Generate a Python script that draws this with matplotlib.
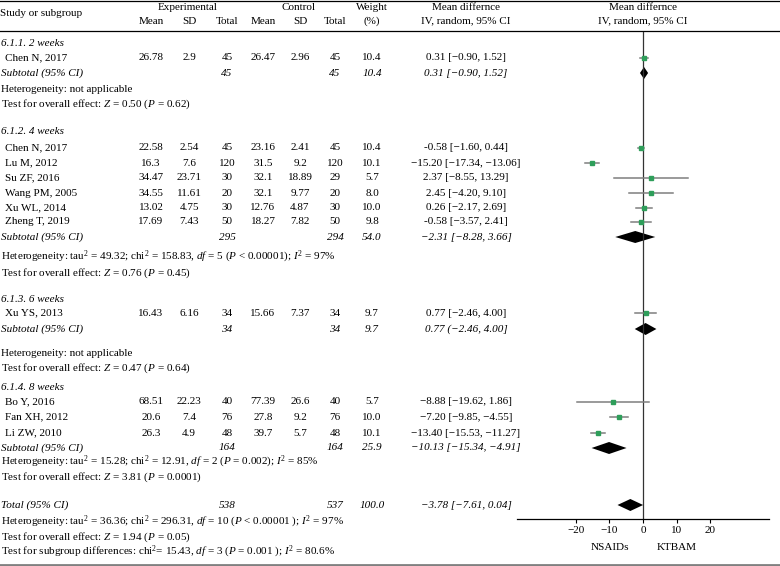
import matplotlib
matplotlib.use("Agg")
import matplotlib.pyplot as plt
import numpy as np

plt.rcParams['font.family'] = ['Liberation Serif', 'DejaVu Serif']
plt.rcParams['mathtext.fontset'] = 'custom'
plt.rcParams['mathtext.rm'] = 'Liberation Serif'
plt.rcParams['mathtext.it'] = 'Liberation Serif:italic'

# ---- data ----
studies = ["Chen N, 2017", "Chen N, 2017", "Lu M, 2012", "Su ZF, 2016", "Wang PM, 2005",
           "Xu WL, 2014", "Zheng T, 2019", "Xu YS, 2013", "Bo Y, 2016", "Fan XH, 2012", "Li ZW, 2010"]
exp_mean = ["26.78", "22.58", "16.3", "34.47", "34.55", "13.02", "17.69", "16.43", "68.51", "20.6", "26.3"]
exp_sd = ["2.9", "2.54", "7.6", "23.71", "11.61", "4.75", "7.43", "6.16", "22.23", "7.4", "4.9"]
exp_n = [45, 45, 120, 30, 20, 30, 50, 34, 40, 76, 48]
ctl_mean = ["26.47", "23.16", "31.5", "32.1", "32.1", "12.76", "18.27", "15.66", "77.39", "27.8", "39.7"]
ctl_sd = ["2.96", "2.41", "9.2", "18.89", "9.77", "4.87", "7.82", "7.37", "26.6", "9.2", "5.7"]
ctl_n = [45, 45, 120, 29, 20, 30, 50, 34, 40, 76, 48]
weights = [10.4, 10.4, 10.1, 5.7, 8.0, 10.0, 9.8, 9.7, 5.7, 10.0, 10.1]
md = [0.31, -0.58, -15.20, 2.37, 2.45, 0.26, -0.58, 0.77, -8.88, -7.20, -13.40]
md_lo = [-0.90, -1.60, -17.34, -8.55, -4.20, -2.17, -3.57, -2.46, -19.62, -9.85, -15.53]
md_hi = [1.52, 0.44, -13.06, 13.29, 9.10, 2.69, 2.41, 4.00, 1.86, -4.55, -11.27]
md_text = ["0.31 [−0.90, 1.52]", "-0.58 [−1.60, 0.44]", "−15.20 [−17.34, −13.06]",
           "2.37 [−8.55, 13.29]", "2.45 [−4.20, 9.10]", "0.26 [−2.17, 2.69]",
           "-0.58 [−3.57, 2.41]", "0.77 [−2.46, 4.00]", "−8.88 [−19.62, 1.86]",
           "−7.20 [−9.85, −4.55]", "−13.40 [−15.53, −11.27]"]

subgroups = ["6.1.1. 2 weeks", "6.1.2. 4 weeks", "6.1.3. 6 weeks", "6.1.4. 8 weeks"]
sub_exp_n = [45, 295, 34, 164]
sub_ctl_n = [45, 294, 34, 164]
sub_w = ["10.4", "54.0", "9.7", "25.9"]
sub_md = [0.31, -2.31, 0.77, -10.13]
sub_lo = [-0.90, -8.28, -2.46, -15.34]
sub_hi = [1.52, 3.66, 4.00, -4.91]
sub_text = ["0.31 [−0.90, 1.52]", "−2.31 [−8.28, 3.66]", "0.77 (−2.46, 4.00]", "−10.13 [−15.34, −4.91]"]
sub_het = ["Heterogeneity: not applicable",
           r"Heterogeneity: tau$^2$ = 49.32; chi$^2$ = 158.83, $\mathit{df}$ = 5 ($\mathit{P}$ < 0.00001); $\mathit{I}^2$ = 97%",
           "Heterogeneity: not applicable",
           r"Heterogeneity: tau$^2$ = 15.28; chi$^2$ = 12.91, $\mathit{df}$ = 2 ($\mathit{P}$ = 0.002); $\mathit{I}^2$ = 85%"]
sub_test = [r"Test for overall effect: $\mathit{Z}$ = 0.50 ($\mathit{P}$ = 0.62)",
            r"Test for overall effect: $\mathit{Z}$ = 0.76 ($\mathit{P}$ = 0.45)",
            r"Test for overall effect: $\mathit{Z}$ = 0.47 ($\mathit{P}$ = 0.64)",
            r"Test for overall effect: $\mathit{Z}$ = 3.81 ($\mathit{P}$ = 0.0001)"]

total_exp_n, total_ctl_n, total_w = 538, 537, "100.0"
total_md, total_lo, total_hi = -3.78, -7.61, 0.04
total_text = "−3.78 [−7.61, 0.04]"
total_lines = [r"Heterogeneity: tau$^2$ = 36.36; chi$^2$ = 296.31, $\mathit{df}$ = 10 ($\mathit{P}$ < 0.00001 ); $\mathit{I}^2$ = 97%",
               r"Test for overall effect: $\mathit{Z}$ = 1.94 ($\mathit{P}$ = 0.05)",
               r"Test for subgroup differences: chi$^2$= 15.43, $\mathit{df}$ = 3 ($\mathit{P}$ = 0.001 ); $\mathit{I}^2$ = 80.6%"]

ticks = [-20, -10, 0, 10, 20]

# ---- layout (pixel rows) ----
W, H = 780, 566
sec_y = [43, 132, 300, 387]
study_y = [58, 148, 163, 178, 193, 208, 222, 313, 402, 417, 433]
sub_y = [73, 237, 329, 448]
het_y = [90, 257, 353, 462]
test_y = [104, 273, 368, 477]
total_y = 505
total_lines_y = [522, 537, 552]
col_x = dict(em=151, esd=189, en=227, cm=263, csd=300, cn=335, w=372, md=466)
fs = 8.0

fig = plt.figure(figsize=(W / 100, H / 100), dpi=100)
bg = fig.add_axes([0, 0, 1, 1])
bg.set_xlim(0, W)
bg.set_ylim(H, 0)
bg.axis('off')

bg.axhline(0.5, color='black', lw=0.9)
bg.axhline(31, color='black', lw=0.9)
bg.axhline(564.5, color='#808080', lw=2)

def t(x, y, s, ha='center', style='normal'):
    bg.text(x, y, s, ha=ha, va='center', fontsize=fs, style=style)

# headers
t(0, 14, "Study or subgroup", ha='left')
t(188, 7, "Experimental")
t(299, 7, "Control")
t(372, 7, "Weight")
t(372, 21, "(%)")
for key, lab in [('em', 'Mean'), ('esd', 'SD'), ('en', 'Total'), ('cm', 'Mean'), ('csd', 'SD'), ('cn', 'Total')]:
    t(col_x[key], 21, lab)
t(466, 7, "Mean differnce")
t(466, 21, "IV, random, 95% CI")
t(643, 7, "Mean differnce")
t(643, 21, "IV, random, 95% CI")

for i, y in enumerate(study_y):
    t(5, y, studies[i], ha='left')
    t(col_x['em'], y, exp_mean[i])
    t(col_x['esd'], y, exp_sd[i])
    t(col_x['en'], y, str(exp_n[i]))
    t(col_x['cm'], y, ctl_mean[i])
    t(col_x['csd'], y, ctl_sd[i])
    t(col_x['cn'], y, str(ctl_n[i]))
    t(col_x['w'], y, f"{weights[i]:.1f}")
    t(col_x['md'], y, md_text[i])

for g in range(4):
    t(1, sec_y[g], subgroups[g], ha='left', style='italic')
    t(1, sub_y[g], "Subtotal (95% CI)", ha='left', style='italic')
    t(col_x['en'], sub_y[g], str(sub_exp_n[g]), style='italic')
    t(col_x['cn'], sub_y[g], str(sub_ctl_n[g]), style='italic')
    t(col_x['w'], sub_y[g], sub_w[g], style='italic')
    t(col_x['md'], sub_y[g], sub_text[g], style='italic')
    t(1, het_y[g], sub_het[g], ha='left')
    t(1, test_y[g], sub_test[g], ha='left')

t(1, total_y, "Total (95% CI)", ha='left', style='italic')
t(col_x['en'], total_y, str(total_exp_n), style='italic')
t(col_x['cn'], total_y, str(total_ctl_n), style='italic')
t(col_x['w'], total_y, total_w, style='italic')
t(col_x['md'], total_y, total_text, style='italic')
for y, s in zip(total_lines_y, total_lines):
    t(1, y, s, ha='left')

# ---- forest plot ----
ax_l, ax_r, ax_top, ax_bot = 517, 769, 32, 519
ax = fig.add_axes([ax_l / W, (H - ax_bot) / H, (ax_r - ax_l) / W, (ax_bot - ax_top) / H])
ax.patch.set_alpha(0)
ax.set_xlim(-37.6, 37.6)
ax.set_ylim(ax_bot, ax_top)
for s in ['top', 'left', 'right']:
    ax.spines[s].set_visible(False)
ax.spines['bottom'].set_linewidth(0.9)
ax.set_yticks([])
ax.set_xticks(ticks)
ax.set_xticklabels([str(v).replace('-', '−') for v in ticks], fontsize=fs)
ax.tick_params(axis='x', length=3, width=0.8, pad=2)
ax.axvline(0, color='#333333', lw=0.9)

for i, y in enumerate(study_y):
    ax.plot([md_lo[i], md_hi[i]], [y, y], color='#7f7f7f', lw=1.1)
    ax.plot(md[i], y, marker='s', ms=3.3 * np.sqrt(weights[i] / 10.4), color='#2e9e5a', mec='#2e9e5a')

def diamond(c, lo, hi, y, h=6):
    ax.fill([lo, c, hi, c], [y, y - h, y, y + h], color='black', lw=0)

for g in range(4):
    diamond(sub_md[g], sub_lo[g], sub_hi[g], sub_y[g])
diamond(total_md, total_lo, total_hi, total_y)

ax.text(-10, 547, "NSAIDs", ha='center', va='center', fontsize=fs, clip_on=False)
ax.text(10, 547, "KTBAM", ha='center', va='center', fontsize=fs, clip_on=False)

fig.savefig("out.png", dpi=100)
